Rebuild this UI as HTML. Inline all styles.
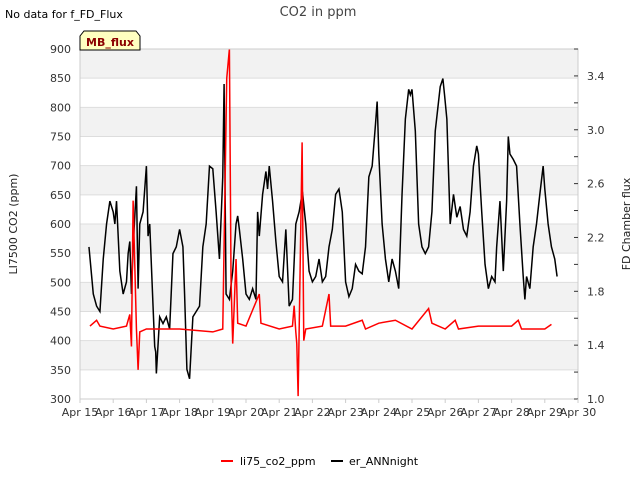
<!DOCTYPE html>
<html><head><meta charset="utf-8"><style>
body{margin:0;background:#fff;font-family:"Liberation Sans","DejaVu Sans",sans-serif}
svg text{font-family:"DejaVu Sans","Liberation Sans",sans-serif}
</style></head><body>
<svg id="c" width="640" height="480" xmlns="http://www.w3.org/2000/svg">
<text x="5" y="18" font-size="11" fill="#000">No data for f_FD_Flux</text>
<text x="318" y="16" font-size="13" fill="#444" text-anchor="middle">CO2 in ppm</text>
<g id="bands"></g><g id="grid"></g>
<g id="series"></g>
<g id="axes"></g>
<g>
<path d="M80,50 L80,36 L84,31 L136,31 L140,36 L140,50 Z" fill="#ffffc0" stroke="#000" stroke-width="1"/>
<text x="110" y="46" font-size="11" font-weight="bold" fill="#8b0000" text-anchor="middle">MB_flux</text>
</g>
<text transform="translate(17,224) rotate(-90)" font-size="11" fill="#222" text-anchor="middle">LI7500 CO2 (ppm)</text>
<text transform="translate(630,224) rotate(-90)" font-size="11" fill="#222" text-anchor="middle">FD Chamber flux</text>
<g>
<line x1="221" y1="461" x2="233" y2="461" stroke="#f00" stroke-width="2"/>
<text x="240" y="465" font-size="11" fill="#000">li75_co2_ppm</text>
<line x1="331" y1="461" x2="343" y2="461" stroke="#000" stroke-width="2"/>
<text x="349" y="465" font-size="11" fill="#000">er_ANNnight</text>
</g>
</svg>
<script>
const xTickLabels=["Apr 15","Apr 16","Apr 17","Apr 18","Apr 19","Apr 20","Apr 21","Apr 22","Apr 23","Apr 24","Apr 25","Apr 26","Apr 27","Apr 28","Apr 29","Apr 30"];
const leftTicks=[300,350,400,450,500,550,600,650,700,750,800,850,900];
const rightTicks=[1.0,1.2,1.4,1.6,1.8,2.0,2.2,2.4,2.6,2.8,3.0,3.2,3.4,3.6];
const blackDays=[15.27,15.4,15.5,15.6,15.7,15.8,15.9,16.0,16.05,16.1,16.2,16.3,16.4,16.45,16.5,16.55,16.6,16.7,16.75,16.8,16.9,17.0,17.05,17.1,17.2,17.25,17.28,17.3,17.4,17.5,17.6,17.7,17.8,17.9,18.0,18.1,18.15,18.22,18.3,18.4,18.5,18.6,18.7,18.8,18.9,19.0,19.1,19.2,19.3,19.34,19.4,19.5,19.6,19.7,19.75,19.8,19.9,20.0,20.1,20.2,20.3,20.35,20.4,20.5,20.6,20.65,20.7,20.8,20.9,21.0,21.1,21.2,21.3,21.4,21.5,21.6,21.7,21.8,21.9,22.0,22.1,22.2,22.3,22.4,22.5,22.6,22.7,22.8,22.9,23.0,23.1,23.2,23.3,23.4,23.5,23.6,23.7,23.8,23.9,23.95,24.0,24.1,24.2,24.3,24.4,24.5,24.6,24.7,24.8,24.9,24.95,25.0,25.1,25.2,25.3,25.4,25.5,25.6,25.7,25.8,25.85,25.93,25.98,26.05,26.15,26.25,26.35,26.45,26.55,26.65,26.75,26.85,26.95,27.0,27.1,27.2,27.3,27.4,27.5,27.55,27.65,27.75,27.85,27.9,27.95,28.05,28.15,28.25,28.35,28.4,28.45,28.55,28.65,28.75,28.85,28.95,29.0,29.1,29.2,29.3,29.37];
const blackVals=[2.13,1.78,1.69,1.65,2.04,2.30,2.47,2.39,2.30,2.47,1.95,1.78,1.87,2.08,2.17,1.78,2.13,2.58,1.82,2.30,2.39,2.73,2.21,2.30,1.69,1.39,1.35,1.19,1.61,1.56,1.61,1.52,2.08,2.13,2.26,2.13,1.78,1.22,1.15,1.61,1.65,1.69,2.13,2.30,2.73,2.71,2.39,2.04,2.65,3.34,1.78,1.74,1.95,2.30,2.36,2.26,2.04,1.78,1.74,1.82,1.74,2.39,2.21,2.52,2.69,2.56,2.73,2.47,2.17,1.91,1.87,2.26,1.69,1.74,2.30,2.39,2.54,2.30,1.95,1.87,1.91,2.04,1.87,1.91,2.13,2.26,2.52,2.56,2.39,1.87,1.76,1.82,2.00,1.95,1.93,2.13,2.65,2.73,3.04,3.21,2.82,2.30,2.04,1.87,2.04,1.95,1.82,2.52,3.08,3.30,3.26,3.30,2.99,2.30,2.13,2.08,2.13,2.39,2.99,3.21,3.32,3.38,3.26,3.08,2.30,2.52,2.35,2.43,2.26,2.21,2.39,2.73,2.88,2.82,2.39,2.00,1.82,1.91,1.87,2.13,2.47,1.95,2.47,2.95,2.82,2.78,2.73,2.30,1.91,1.74,1.91,1.82,2.13,2.30,2.52,2.73,2.56,2.30,2.13,2.04,1.91];
const redDays=[15.3,15.5,15.6,16.0,16.4,16.5,16.55,16.6,16.7,16.75,16.8,17.0,18.0,19.0,19.3,19.42,19.5,19.55,19.6,19.7,19.75,20.0,20.4,20.45,21.0,21.4,21.45,21.5,21.53,21.57,21.69,21.74,21.8,22.3,22.5,22.55,23.0,23.5,23.6,24.0,24.5,25.0,25.5,25.6,26.0,26.3,26.4,27.0,28.0,28.2,28.3,29.0,29.2];
const redVals=[425,435,425,420,425,445,390,640,420,350,415,420,420,415,420,850,900,500,395,540,430,425,480,430,420,425,460,415,395,305,740,400,420,425,480,425,425,435,420,430,435,420,455,430,420,435,420,425,425,435,420,420,428];
const NS="http://www.w3.org/2000/svg";
const L=80,R=578,T=49,B=399;
const xs=d=>L+(d-15)/15*(R-L);
const yl=v=>B-(v-300)/600*(B-T);
const yr=v=>B-(v-1)/2.6*(B-T);
function mk(tag,attrs,parent){const e=document.createElementNS(NS,tag);for(const k in attrs)e.setAttribute(k,attrs[k]);document.getElementById(parent).appendChild(e);return e;}
for(let i=0;i<leftTicks.length-1;i++){
 if((leftTicks.length-2-i)%2===0){
  const r=mk('rect',{x:L,y:yl(leftTicks[i+1]),width:R-L,height:yl(leftTicks[i])-yl(leftTicks[i+1]),fill:'#f2f2f2'},'bands');
  
  
 }
}
leftTicks.forEach(v=>{
 const g=mk('line',{x1:L,x2:R,y1:yl(v),y2:yl(v),stroke:'#ddd','stroke-width':1},'grid');
 
 
 const t=mk('text',{x:L-9,y:yl(v)+4,'font-size':11,fill:'#333','text-anchor':'end'},'axes');t.textContent=v;
 
 
});
mk('rect',{x:L,y:T,width:R-L,height:B-T,fill:'none',stroke:'#ccc'},'axes');
rightTicks.forEach((v,i)=>{
 mk('line',{x1:R-4,x2:R,y1:yr(v),y2:yr(v),stroke:'#333'},'axes');
 if(i%2===0){
 const t=mk('text',{x:R+9,y:yr(v)+4,'font-size':11,fill:'#333'},'axes');t.textContent=v.toFixed(1);
 
 }
});
xTickLabels.forEach((s,i)=>{
 mk('line',{x1:xs(15+i),x2:xs(15+i),y1:B,y2:B+4,stroke:'#ccc'},'axes');
 const t=mk('text',{x:xs(15+i),y:B+17,'font-size':11,fill:'#333','text-anchor':'middle'},'axes');t.textContent=s;
 
 
});
const pb=mk('polyline',{points:blackDays.map((d,i)=>xs(d)+','+yr(blackVals[i])).join(' '),fill:'none',stroke:'#000','stroke-width':1.5},'series');


const pr=mk('polyline',{points:redDays.map((d,i)=>xs(d)+','+yl(redVals[i])).join(' '),fill:'none',stroke:'#f00','stroke-width':1.5},'series');


</script>
</body></html>
